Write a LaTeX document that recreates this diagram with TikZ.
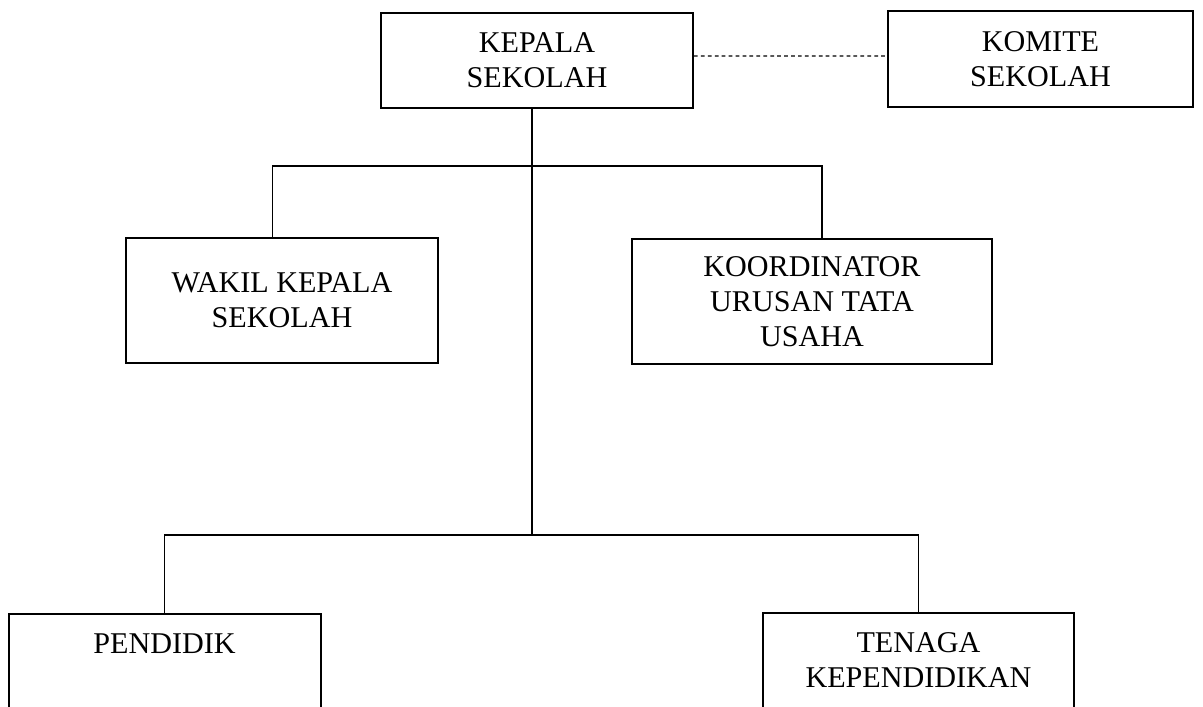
\documentclass[tikz,border=0pt]{standalone}
\usepackage{fontspec}
\setmainfont{Liberation Serif}

\begin{document}
\begin{tikzpicture}[x=0.375pt, y=-0.375pt,
 boxnode/.style={rectangle, draw=black, line width=0.75pt, align=center, inner sep=0pt, font=\fontsize{11.3}{13.1}\selectfont},
 topnode/.style={boxnode, minimum width=117pt, minimum height=35.8pt},
 midnode/.style={boxnode, minimum height=46.9pt},
 lownode/.style={boxnode, anchor=north, minimum width=117pt, text height=15pt, text depth=37.5pt},
 garis/.style={black, line width=0.4pt}, ]

                \useasboundingbox (0,0) rectangle (1203,707);

                \node[topnode] (1) at (537,60.5) {KEPALA\\SEKOLAH};
                \node[topnode, minimum width=114.4pt] (2) at (1040.5,59) {KOMITE\\SEKOLAH};
                \node[midnode, minimum width=117pt] (3) at (282,300.5) {WAKIL KEPALA\\SEKOLAH};
                \node[midnode, minimum width=135pt] (4) at (812,301.5) {KOORDINATOR\\URUSAN TATA\\USAHA};
                \node[lownode] (5) at (164.5,613) {PENDIDIK};
                \node[lownode, minimum width=116.6pt, text height=28.1pt, text depth=24.4pt] (6) at (918.5,612) {TENAGA\\KEPENDIDIKAN};

                \coordinate (c1) at (532,166);
                \coordinate (c2) at (532,535);

                \draw[garis] (1.south -| c1) -- (c2);
                \draw[garis] ([xshift=-3.4pt]3.north) |- (c1) -| ([xshift=3.75pt]4.north);
                \draw[garis] (5.north) |- (c2) -| (6.north);
                \draw[garis, line width=0.5pt, dash pattern=on 1.4pt off 1.2pt] ([yshift=1.7pt]1.east) -- ([yshift=1.1pt]2.west);
\end{tikzpicture}
\end{document}
